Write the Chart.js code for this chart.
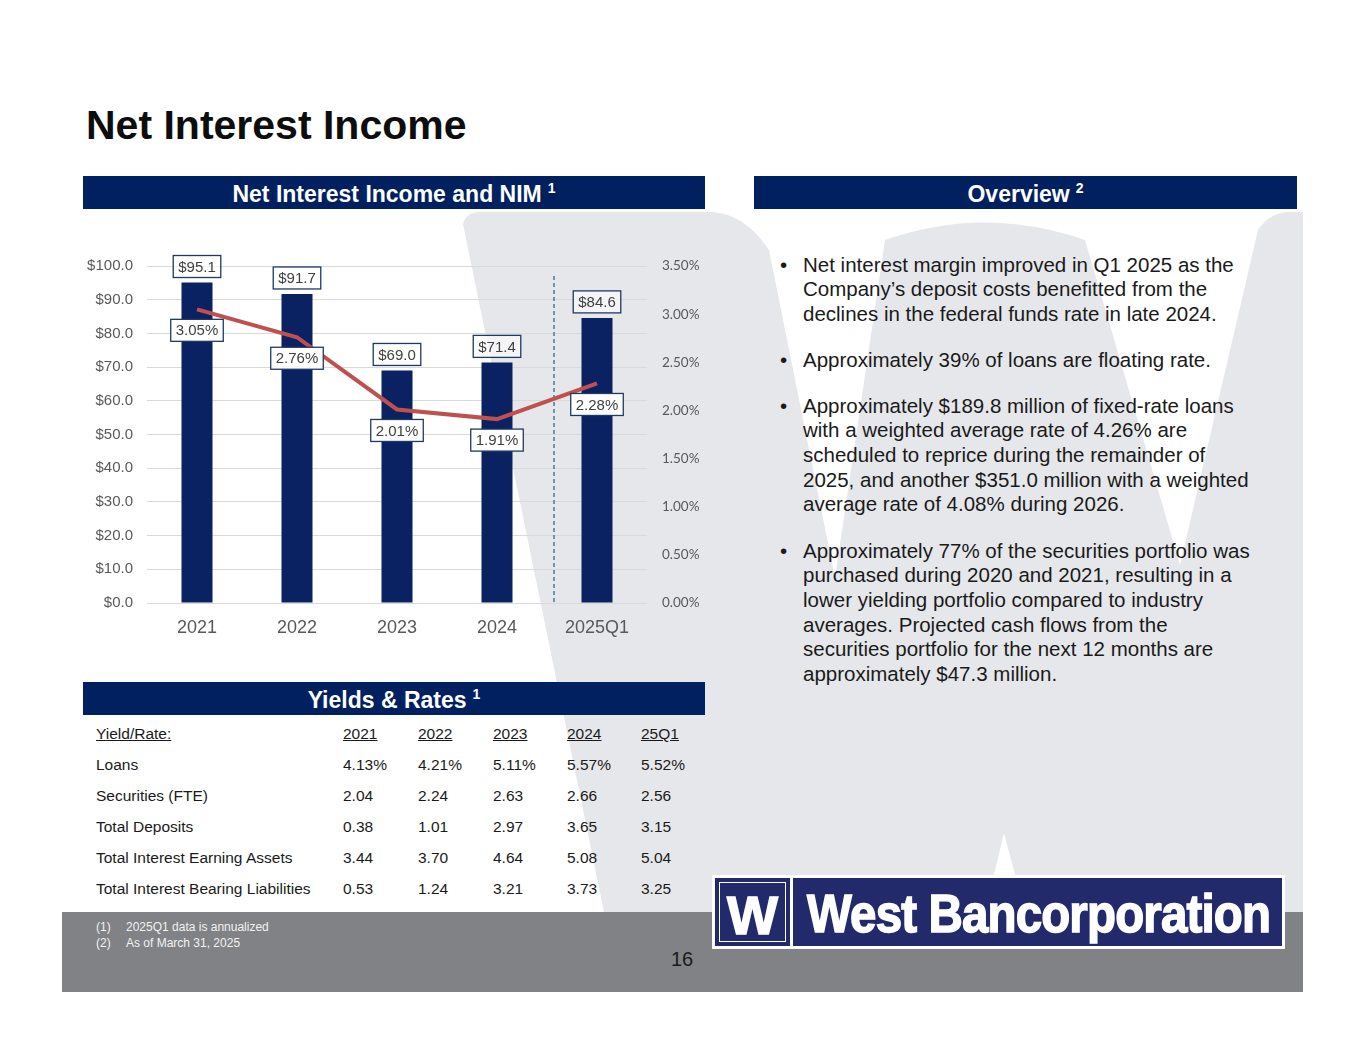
<!DOCTYPE html>
<html>
<head>
<meta charset="utf-8">
<script src="https://cdn.jsdelivr.net/npm/chart.js@4.4.1/dist/chart.umd.min.js"></script>
<style>
  html, body { margin: 0; padding: 0; }
  body { width: 1365px; height: 1055px; background: #fff; position: relative; overflow: hidden;
         font-family: "Liberation Sans", Arial, sans-serif; color: #1a1a1a; }
  .abs { position: absolute; }
  .hdr { position: absolute; height: 33px; background: #002060; color: #fff; font-weight: bold;
         font-size: 23px; line-height: 36px; text-align: center; }
  .hdr sup { font-size: 14px; vertical-align: 0; position: relative; top: -9px; margin-left: 6px; }
  .para { position: absolute; left: 803px; width: 480px; font-size: 20.5px; line-height: 24.7px; white-space: nowrap; }
  .bul { position: absolute; left: 780px; font-size: 20.5px; line-height: 24.7px; }
  .cell { position: absolute; font-size: 15.5px; line-height: 20px; white-space: nowrap; }
  .note { position: absolute; font-size: 12px; line-height: 16px; color: #f2f2f2; }
</style>
</head>
<body>

<svg class="abs" style="left:0;top:0" width="1365" height="1055">
  <path d="M 463 224 Q 466 212 480 212 L 712 212 Q 745 214 769 250 L 835 578 L 885 240 Q 985 205 1085 240 L 1180 565 L 1258 230 Q 1270 212 1290 212 L 1303 212 L 1303 912 L 1025 912 L 1004 833 L 985 912 L 604 912 Z" fill="#e6e7eb"/>
  <rect x="62" y="912" width="1241" height="80" fill="#808285"/>
</svg>

<div class="abs" style="left:86px;top:100px;font-size:41px;font-weight:bold;color:#0d0d0d;line-height:50px;">Net Interest Income</div>

<div class="hdr" style="left:83px;top:176px;width:622px;">Net Interest Income and NIM<sup>1</sup></div>
<div class="hdr" style="left:754px;top:176px;width:543px;">Overview<sup>2</sup></div>
<div class="hdr" style="left:83px;top:682px;width:622px;">Yields &amp; Rates<sup>1</sup></div>

<div class="abs" style="left:83px;top:240px;width:640px;height:410px;">
  <canvas id="chart"></canvas>
</div>

<div id="table"></div>
<div id="overview"></div>

<div class="note" style="left:96px;top:919px;">(1)</div>
<div class="note" style="left:126px;top:919px;">2025Q1 data is annualized</div>
<div class="note" style="left:96px;top:935px;">(2)</div>
<div class="note" style="left:126px;top:935px;">As of March 31, 2025</div>
<div class="abs" style="left:671px;top:946px;font-size:20px;line-height:26px;color:#1a1a1a;">16</div>

<!-- logo -->
<div class="abs" style="left:712px;top:875px;width:573px;height:74px;background:#fff;"></div>
<div class="abs" style="left:715px;top:878px;width:75px;height:68px;background:#232a6b;"></div>
<div class="abs" style="left:719px;top:882px;width:67px;height:60px;border:1.5px solid #fff;box-sizing:border-box;"></div>
<div class="abs" style="left:793px;top:878px;width:489px;height:68px;background:#232a6b;"></div>
<div class="abs" style="left:727px;top:883px;font-size:54px;line-height:64px;font-weight:bold;color:#fff;-webkit-text-stroke:1.5px #fff;transform:scaleX(1.0);transform-origin:left;">W</div>
<div id="logoText" class="abs" style="left:807px;top:881px;font-size:54px;line-height:64px;font-weight:bold;color:#fff;-webkit-text-stroke:1.5px #fff;letter-spacing:-1px;transform-origin:left;white-space:nowrap;">West Bancorporation</div>

<script>
// chart data
const categories = ['2021', '2022', '2023', '2024', '2025Q1'];
const netInterestIncome = [95.1, 91.7, 69.0, 71.4, 84.6];   // $ millions
const netInterestMargin = [3.05, 2.76, 2.01, 1.91, 2.28];   // %
const dividerAt = 3.57;   // category position of the dashed separator
const dividerTop = 97;    // left-axis value where the separator starts

// yields & rates table
const tableHeader = ['Yield/Rate:', '2021', '2022', '2023', '2024', '25Q1'];
const tableRows = [
  ['Loans', '4.13%', '4.21%', '5.11%', '5.57%', '5.52%'],
  ['Securities (FTE)', '2.04', '2.24', '2.63', '2.66', '2.56'],
  ['Total Deposits', '0.38', '1.01', '2.97', '3.65', '3.15'],
  ['Total Interest Earning Assets', '3.44', '3.70', '4.64', '5.08', '5.04'],
  ['Total Interest Bearing Liabilities', '0.53', '1.24', '3.21', '3.73', '3.25'],
];

const overviewParas = [
  ['Net interest margin improved in Q1 2025 as the',
   'Company\u2019s deposit costs benefitted from the',
   'declines in the federal funds rate in late 2024.'],
  ['Approximately 39% of loans are floating rate.'],
  ['Approximately $189.8 million of fixed-rate loans',
   'with a weighted average rate of 4.26% are',
   'scheduled to reprice during the remainder of',
   '2025, and another $351.0 million with a weighted',
   'average rate of 4.08% during 2026.'],
  ['Approximately 77% of the securities portfolio was',
   'purchased during 2020 and 2021, resulting in a',
   'lower yielding portfolio compared to industry',
   'averages. Projected cash flows from the',
   'securities portfolio for the next 12 months are',
   'approximately $47.3 million.'],
];

// --- table
const colX = [96, 343, 418, 493, 567, 641];
const rowY = [734, 765, 796, 827, 858, 889];
let html = '';
[tableHeader, ...tableRows].forEach((row, r) => {
  row.forEach((txt, c) => {
    const u = r === 0 ? 'text-decoration:underline;' : '';
    html += `<div class="cell" style="left:${colX[c]}px;top:${rowY[r] - 10}px;${u}">${txt}</div>`;
  });
});
document.getElementById('table').innerHTML = html;

// --- overview bullets
const paraY = [265, 360, 406, 551];
html = '';
overviewParas.forEach((lines, i) => {
  const top = paraY[i] - 12.35;
  html += `<div class="bul" style="top:${top}px">\u2022</div>`;
  html += `<div class="para" style="top:${top}px">${lines.join('<br>')}</div>`;
});
document.getElementById('overview').innerHTML = html;

// --- logo width
const lt = document.getElementById('logoText');
lt.style.transform = `scaleX(${463 / lt.offsetWidth})`;

// --- chart
function drawBox(ctx, text, cx, cy, fill) {
  ctx.save();
  ctx.font = '15px "Liberation Sans", Arial, sans-serif';
  const w = ctx.measureText(text).width + 10;
  const h = 22;
  ctx.fillStyle = fill;
  ctx.fillRect(cx - w / 2, cy - h / 2, w, h);
  ctx.strokeStyle = '#1f3864';
  ctx.lineWidth = 1.3;
  ctx.strokeRect(cx - w / 2, cy - h / 2, w, h);
  ctx.fillStyle = '#404040';
  ctx.textAlign = 'center';
  ctx.textBaseline = 'middle';
  ctx.fillText(text, cx, cy + 1);
  ctx.restore();
}

const divider = {
  id: 'divider',
  beforeDatasetsDraw(chart) {
    const x = chart.scales.x, y = chart.scales.y;
    const i = Math.floor(dividerAt);
    const p0 = x.getPixelForValue(i), p1 = x.getPixelForValue(i + 1);
    const px = p0 + (dividerAt - i) * (p1 - p0);
    const ctx = chart.ctx;
    ctx.save();
    ctx.strokeStyle = '#3f7f95';
    ctx.lineWidth = 1.5;
    ctx.setLineDash([4, 3]);
    ctx.beginPath();
    ctx.moveTo(px, y.getPixelForValue(dividerTop));
    ctx.lineTo(px, y.getPixelForValue(0) + 2);
    ctx.stroke();
    ctx.restore();
  }
};

const valueBoxes = {
  id: 'valueBoxes',
  afterDatasetsDraw(chart) {
    const ctx = chart.ctx;
    chart.getDatasetMeta(1).data.forEach((el, i) => {
      drawBox(ctx, '$' + netInterestIncome[i].toFixed(1), el.x, el.y - 16, 'rgba(255,255,255,0.6)');
    });
    chart.getDatasetMeta(0).data.forEach((el, i) => {
      drawBox(ctx, netInterestMargin[i].toFixed(2) + '%', el.x, el.y + 21, '#fff');
    });
  }
};

new Chart(document.getElementById('chart'), {
  data: {
    labels: categories,
    datasets: [
      {
        type: 'line',
        label: 'NIM',
        data: netInterestMargin,
        yAxisID: 'nim',
        borderColor: '#c0504d',
        borderWidth: 4,
        pointRadius: 0,
        tension: 0,
        order: 0
      },
      {
        type: 'bar',
        label: 'Net Interest Income',
        data: netInterestIncome,
        yAxisID: 'y',
        backgroundColor: '#0b2262',
        barPercentage: 0.31,
        categoryPercentage: 1,
        order: 1
      }
    ]
  },
  options: {
    responsive: true,
    maintainAspectRatio: false,
    animation: false,
    layout: { padding: { top: 26, left: 0, right: 0, bottom: 0 } },
    scales: {
      x: {
        grid: { display: false },
        border: { display: false },
        ticks: { color: '#595959', padding: 6, font: { size: 18, family: '"Liberation Sans", Arial' } },
        afterFit: s => { s.height = 47; }
      },
      y: {
        position: 'left',
        min: 0,
        max: 100,
        grid: { color: '#d9d9d9', drawTicks: false },
        border: { display: false },
        ticks: {
          stepSize: 10,
          padding: 14,
          color: '#595959',
          font: { size: 15, family: '"Liberation Sans", Arial' },
          callback: v => '$' + v.toFixed(1)
        },
        afterFit: s => { s.width = 64; }
      },
      nim: {
        position: 'right',
        min: 0,
        max: 3.5,
        grid: { display: false, drawTicks: false },
        border: { display: false },
        ticks: {
          stepSize: 0.5,
          padding: 15,
          color: '#595959',
          font: { size: 13.5, family: 'Lato' },
          callback: v => v.toFixed(2) + '%'
        },
        afterFit: s => { s.width = 76; }
      }
    },
    plugins: {
      legend: { display: false },
      tooltip: { enabled: false }
    }
  },
  plugins: [divider, valueBoxes]
});
</script>
</body>
</html>
